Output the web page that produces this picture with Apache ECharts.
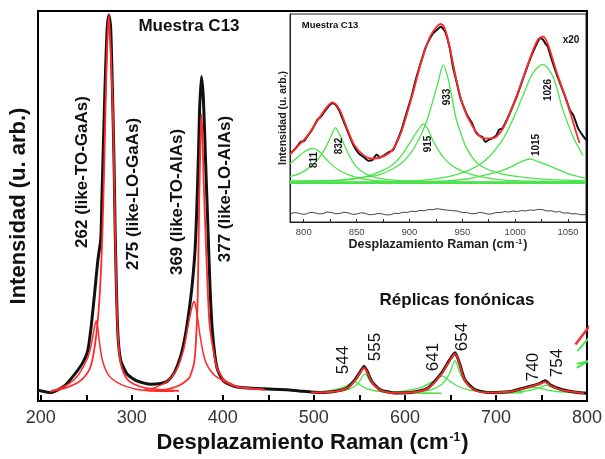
<!DOCTYPE html>
<html><head><meta charset="utf-8">
<script src="https://cdn.jsdelivr.net/npm/echarts@6/dist/echarts.min.js"></script>
<style>html,body{margin:0;padding:0;background:#fff}#c{width:605px;height:459px}</style>
</head><body><div id="c"></div>
<script>
const FONT = "'Liberation Sans', Arial, sans-serif";

// ---------- main panel ----------
const mainTickLabels = [200, 300, 400, 500, 600, 700, 800];
const mainTicks = [200, 250, 300, 350, 400, 450, 500, 550, 600, 650, 700, 750, 800];

const expMain = [[197,2.8],[211,2.2],[226,3.9],[237,6.8],[246,9.8],[251.6,12.9],[255.2,18.7],[259,27.2],[262.6,35.8],[266,41.7],[267.2,51.9],[270.2,77.3],[272.7,94.4],[274.8,99.0],[276.8,95.9],[279,77.3],[280.6,60.3],[281.7,44.2],[283.3,27.4],[285,16.2],[288,10.3],[295.3,6.8],[306.3,5.1],[320.8,4.3],[331.7,4.5],[339,5.1],[346.7,7.3],[353.2,11.1],[358.7,16.7],[363,23.3],[366.3,29.7],[369.6,39.1],[371.8,51.9],[373.4,64.6],[374.5,74.8],[376.5,83.2],[378.7,77.3],[381,62.0],[383.3,46.8],[386,28.9],[388.7,17.5],[393.6,8.5],[401,5.1],[415.5,3.6],[440,3.2],[470,2.9],[484,2.6],[506,2.2],[521,2.4],[536,3.3],[545,5.4],[551,7.5],[555,8.9],[558,7.9],[564,4.9],[573,2.9],[588,2.1],[606,2.2],[625,3.3],[640,7.1],[649,10.5],[655,12.4],[660,9.7],[666,5.4],[677,2.9],[692,2.2],[714,2.4],[736,3.7],[748,4.5],[754,5.2],[760,4.1],[773,2.9],[790,2.2],[800,2.0]];

const lor262 = [[210,2.3],[230,4.3],[240.7,6.5],[251.6,11.1],[256,15],[259,19],[261,20.6],[262.5,19],[264.4,15.3],[268,10.2],[275.3,6.4],[288,4.3],[306.3,3.0],[324.5,2.6],[346.3,2.5]];
const lor275 = [[211,2.6],[230,3.6],[245,5.5],[255,9],[261,17],[265,28],[268,45],[270.5,68],[272.5,88],[274.8,99],[276.8,90],[279,76],[280.6,59],[281.7,43],[283.3,27],[285,16],[288,9.5],[295,5.6],[306,4.0],[320,3.2],[340,2.8],[352,2.6]];
const lor369 = [[314,3.0],[324.5,3.4],[339,5.1],[350,8.5],[357.3,13.6],[362.7,20.4],[366,24],[368.2,25.5],[370,24.5],[371.8,22.1],[375.4,16.2],[380.9,10.2],[390,6.8],[404.6,4.7],[415.5,3.6],[446,3.0]];
const lor377 = [[319.4,2.7],[335.7,2.9],[352.1,4.0],[363.1,6.0],[368.5,9.8],[370.7,16.2],[372.4,26.4],[374.1,51.9],[375.3,65],[376.5,73.5],[377.7,68],[378.9,56.9],[381.6,39.1],[384.9,21.3],[388.2,14.9],[393.6,8.5],[401.3,5.5],[415.5,3.7],[446,2.9]];

const fitReplicas = [[497,2.2],[506,2.2],[521,2.4],[536,3.2],[545,5.2],[551,7.3],[555,8.6],[558,7.7],[564,4.8],[573,2.8],[588,2.1],[606,2.2],[625,3.2],[640,6.9],[649,10.3],[655,12.1],[660,9.5],[666,5.3],[677,2.8],[692,2.2],[714,2.4],[736,3.6],[748,4.4],[754,4.9],[760,4.0],[773,2.8],[790,2.2],[797,2.0]];
const g544 = [[497,2.2],[515,2.6],[528,3.2],[536,3.9],[541,4.6],[544,5.0],[548,4.6],[553,3.8],[560,3.0],[575,2.4],[600,2.1],[640,2.0]];
const g555 = [[497,2.1],[520,2.3],[535,2.8],[545,3.8],[550,5.0],[553,6.2],[556,7.0],[559,6.2],[562,5.0],[568,3.6],[578,2.7],[600,2.2],[640,2.0]];
const g641 = [[580,2.1],[600,2.6],[615,3.3],[625,4.3],[633,5.4],[638,6.1],[641,6.4],[645,5.9],[650,5.0],[658,3.8],[670,2.9],[690,2.3],[720,2.1]];
const g654 = [[590,2.1],[615,2.4],[630,3.0],[640,4.2],[646,5.8],[650,7.6],[653,9.5],[655,10.4],[657,9.5],[660,7.6],[664,5.6],[670,3.9],[680,2.9],[700,2.3],[730,2.1]];
const g740 = [[690,2.1],[710,2.4],[725,2.8],[735,3.3],[741,3.5],[748,3.3],[755,2.9],[770,2.4],[795,2.1]];
const g754 = [[700,2.1],[725,2.4],[740,2.9],[748,3.5],[752,3.9],[755,4.1],[758,3.9],[763,3.4],[772,2.8],[785,2.4],[795,2.2]];
const edgeRed = [[787.3,14.5],[806,20.2]];
const edgeGreenA = [[789.5,12.8],[806,17.2]];
const edgeGreenB = [[788.8,8.5],[806,11.0]];
const edgeGreenC = [[788.8,9.6],[806,10.4]];

// ---------- inset ----------
const insetTickLabels = [800, 850, 900, 950, 1000, 1050];
const insetTicks = [800, 825, 850, 875, 900, 925, 950, 975, 1000, 1025, 1050];
const expInset = [[787,32.8],[790,34.2],[793.6,36.2],[797,38.5],[800,38.8],[803.2,41.0],[808,44.5],[812.7,49.0],[816,50.5],[820.7,53.8],[824,56],[827.1,57.1],[830,56.5],[833.4,53.8],[836.5,50],[839.8,45.8],[844,40.5],[847.8,36.2],[852,33],[857.3,31.0],[861,29.5],[865.3,30.0],[869,32.5],[872,31],[876.4,32.2],[880,33.5],[884.4,34.6],[888,38.5],[892.4,44.2],[897,52],[901.9,60.2],[906,68.5],[911.5,77.9],[915,83.5],[919.4,88.3],[922,90.5],[925.8,92.3],[929.6,93.9],[933.8,91.5],[936,88],[938.5,82.7],[941,75],[944.9,66.7],[948,60],[951.3,55.4],[955,51],[959.2,47.5],[963,43],[966,41.5],[968.8,41.0],[972,38.5],[975,39.5],[978.3,40.2],[982,41.5],[985,44.5],[987.9,45],[992,49],[997.5,55.4],[1002,61],[1007,68.3],[1011,74],[1015,79.5],[1018,83],[1021.3,86.7],[1024,88.3],[1026.1,87.8],[1029,85.5],[1030.9,84.3],[1034,79],[1038.9,71.5],[1043,66],[1048.4,58.7],[1052,53.5],[1055,51.4],[1059.6,45.0],[1064,41.5],[1067,39.5]];
const fitInset = [[787,32.5],[793.6,36.0],[803.2,41.2],[812.7,48.5],[820.7,54.5],[827.1,57.5],[833.4,54.5],[839.8,46.5],[847.8,37],[857.3,31.8],[865.3,30.4],[876.4,31.8],[884.4,35],[892.4,43.5],[901.9,59.5],[911.5,77.5],[919.4,89],[925.8,94],[929.6,95.2],[933.8,92.5],[938.5,83],[944.9,67],[951.3,55],[959.2,46.5],[968.8,40.5],[978.3,40.2],[987.9,44.5],[997.5,55.5],[1007,68.5],[1015,80],[1021.3,87.5],[1026.1,89.2],[1030.9,85.5],[1038.9,72.5],[1048.4,58.7],[1058,42.6],[1061,38]];
const c811 = [[787,28.0],[795,31.5],[800,33.5],[805,35.0],[809,35.4],[814,34.2],[819,31.5],[825,28.3],[833,25],[843,22.5],[858,20.5],[878,19.6],[920,19.2],[1000,19],[1067,19]];
const c832 = [[787,21.8],[797,23.5],[806,26.5],[814,30.5],[821,36],[826,41.5],[830,45.3],[834,42],[838,37.5],[843,32],[849,27],[859,23],[877,20.5],[917,19.5],[1000,19.1],[1067,19]];
const c915 = [[787,19.5],[836,20],[856,21.5],[871,24],[884,27.5],[894,33],[902,39.4],[908,44],[913,47.1],[917,45],[922,39.4],[928,34],[934,30],[942,26.5],[952,24],[967,21.8],[987,20.3],[1017,19.6],[1067,19.3]];
const c933 = [[787,19.7],[836,20.3],[856,21.5],[871,22.7],[884,25.5],[893,28.5],[901,33],[906,37],[912,43],[917,49.5],[922,58],[927,67],[932,75.5],[936,70],[939,63],[944,50],[949,42],[954,35.5],[961,30],[968,26.8],[981,24],[996,22.3],[1026,20.6],[1067,19.8]];
const c1015 = [[787,19],[896,19.3],[936,19.8],[956,20.8],[971,22.5],[986,24.5],[996,26.5],[1005,28.8],[1014,30.3],[1021,29.2],[1030,27.5],[1040,25.3],[1049,23.4],[1060,21.8],[1067,21]];
const c1026 = [[787,19.0],[886,19.4],[927.4,21.0],[952.9,24.2],[972,29.8],[987.9,39.4],[997.5,49.0],[1007,60.3],[1016.6,71.5],[1026.1,75.8],[1035.7,69.9],[1045.2,53.8],[1054.8,41.0],[1059.6,36.2],[1064,32]];
const baseInset = [[787,18.9],[1067,18.9]];
const residInset = [[787,4.0],[791,4.5],[795,4.3],[799,3.7],[802,3.8],[806,4.6],[810,4.5],[814,3.9],[818,4.0],[822,4.8],[826,4.6],[830,4.0],[834,4.1],[838,4.7],[842,4.4],[846,3.7],[850,3.8],[854,4.4],[858,4.2],[862,3.5],[866,3.6],[870,4.1],[874,3.9],[878,3.4],[882,3.5],[886,4.2],[890,4.1],[894,4.7],[898,4.6],[902,5.2],[906,5.0],[910,5.6],[914,5.4],[918,6.0],[922,5.9],[926,6.4],[930,6.1],[934,5.8],[938,5.6],[942,5.4],[946,5.2],[950,4.5],[954,4.6],[958,4.0],[962,4.0],[966,4.6],[970,4.4],[974,3.8],[978,3.9],[982,4.6],[986,4.5],[990,5.0],[994,4.8],[998,5.3],[1002,5.0],[1006,5.5],[1010,5.3],[1014,5.8],[1018,5.6],[1022,6.1],[1026,5.9],[1030,5.3],[1034,5.4],[1038,4.8],[1042,5.0],[1046,4.3],[1050,4.4],[1054,3.9],[1058,4.0],[1062,3.5],[1067,3.6]];

const RED = '#ff2a2a', GREEN = '#4be34b', BLACK = '#111';

function line(data, color, width, gi, z, smooth) {
  return { type: 'line', data: data, xAxisIndex: gi, yAxisIndex: gi, showSymbol: false, symbol: 'none',
    smooth: smooth === undefined ? 0.3 : smooth, z: z, silent: true, animation: false,
    lineStyle: { color: color, width: width } };
}

function rtext(txt, x, y, size, weight, rot) {
  return { type: 'text', x: x, y: y, rotation: rot ? Math.PI / 2 : 0, z: 50,
    style: { text: txt, fontFamily: FONT, fontSize: size, fontWeight: weight, fill: '#111',
      align: 'center', verticalAlign: 'middle' } };
}

const plain = function (v) { return String(v); };

const chart = echarts.init(document.getElementById('c'), null, { renderer: 'canvas' });
chart.setOption({
  animation: false,
  backgroundColor: '#fff',
  textStyle: { fontFamily: FONT },
  grid: [
    { left: 38, right: 16, top: 11, bottom: 55, show: true, borderColor: '#000', borderWidth: 2 },
    { left: 290, top: 14, width: 296, height: 208, show: true, borderColor: '#222', borderWidth: 1, backgroundColor: '#fff' }
  ],
  xAxis: [
    { type: 'value', gridIndex: 0, min: 197, max: 800,
      axisLine: { lineStyle: { color: '#000', width: 2 } },
      axisTick: { inside: true, length: 6, lineStyle: { color: '#000', width: 2 }, customValues: mainTicks },
      axisLabel: { customValues: mainTickLabels, formatter: plain, fontSize: 18, color: '#333', margin: 8, fontFamily: FONT },
      splitLine: { show: false },
      name: '{t|Desplazamiento Raman (cm}{s|-1}{t|)}', nameLocation: 'middle', nameGap: 29,
      nameTextStyle: { rich: {
        t: { fontSize: 22, fontWeight: 'bold', color: '#111', fontFamily: FONT },
        s: { fontSize: 12, fontWeight: 'bold', color: '#111', fontFamily: FONT, verticalAlign: 'top', padding: [0, 1, 10, 1] } } } },
    { type: 'value', gridIndex: 1, min: 787, max: 1067,
      axisLine: { lineStyle: { color: '#222', width: 1 } },
      axisTick: { inside: true, length: 3, lineStyle: { color: '#222', width: 1 }, customValues: insetTicks },
      axisLabel: { customValues: insetTickLabels, formatter: plain, fontSize: 9.5, color: '#444', margin: 5, fontFamily: FONT },
      splitLine: { show: false },
      name: '{t|Desplazamiento Raman (cm}{s|-1}{t|)}', nameLocation: 'middle', nameGap: 15,
      nameTextStyle: { rich: {
        t: { fontSize: 12.5, fontWeight: 'bold', color: '#222', fontFamily: FONT },
        s: { fontSize: 7.5, fontWeight: 'bold', color: '#222', fontFamily: FONT, verticalAlign: 'top', padding: [0, 1, 6, 1] } } } }
  ],
  yAxis: [
    { type: 'value', gridIndex: 0, min: 0, max: 100,
      axisLine: { show: true, lineStyle: { color: '#000', width: 2 } }, axisTick: { show: false },
      axisLabel: { show: false }, splitLine: { show: false },
      name: 'Intensidad (u. arb.)', nameLocation: 'middle', nameGap: 8,
      nameTextStyle: { fontSize: 22, fontWeight: 'bold', color: '#111', fontFamily: FONT } },
    { type: 'value', gridIndex: 1, min: 0, max: 100,
      axisLine: { show: true, lineStyle: { color: '#222', width: 1 } }, axisTick: { show: false },
      axisLabel: { show: false }, splitLine: { show: false },
      name: 'Intensidad (u. arb.)', nameLocation: 'middle', nameGap: 1,
      nameTextStyle: { fontSize: 10.5, fontWeight: 'bold', color: '#222', fontFamily: FONT } }
  ],
  series: [
    line(g544, GREEN, 1.3, 0, 3), line(g555, GREEN, 1.3, 0, 3), line(g641, GREEN, 1.3, 0, 3),
    line(g654, GREEN, 1.3, 0, 3), line(g740, GREEN, 1.3, 0, 3), line(g754, GREEN, 1.3, 0, 3),
    line(edgeGreenA, GREEN, 2, 0, 3, false), line(edgeGreenB, GREEN, 2, 0, 3, false), line(edgeGreenC, GREEN, 2, 0, 3, false),
    line(expMain, BLACK, 3, 0, 4, 0.2),
    line(lor262, RED, 1.5, 0, 5), line(lor275, RED, 1.8, 0, 5), line(lor369, RED, 1.5, 0, 5), line(lor377, RED, 1.8, 0, 5, 0.2),
    line(fitReplicas, RED, 1.8, 0, 5), line(edgeRed, RED, 2.5, 0, 5, false),
    line(baseInset, GREEN, 2.5, 1, 10, false),
    line(c811, GREEN, 1.3, 1, 10), line(c832, GREEN, 1.3, 1, 10), line(c915, GREEN, 1.3, 1, 10),
    line(c933, GREEN, 1.3, 1, 10), line(c1015, GREEN, 1.3, 1, 10), line(c1026, GREEN, 1.3, 1, 10),
    line(residInset, '#444', 1, 1, 11, false),
    line(expInset, BLACK, 2, 1, 11, 0.2),
    line(fitInset, RED, 1.8, 1, 12)
  ],
  graphic: [
    rtext('Muestra C13', 189, 26, 17, 'bold', false),
    rtext('262 (like-TO-GaAs)', 82, 172, 17, 'bold', true),
    rtext('275 (like-LO-GaAs)', 133, 194, 17, 'bold', true),
    rtext('369 (like-TO-AlAs)', 177, 202, 17, 'bold', true),
    rtext('377 (like-LO-AlAs)', 225, 189, 17, 'bold', true),
    rtext('Réplicas fonónicas', 457, 300, 17, 'bold', false),
    rtext('544', 343, 360, 17, 'normal', true),
    rtext('555', 375, 347, 17, 'normal', true),
    rtext('641', 433, 357, 17, 'normal', true),
    rtext('654', 462, 337, 17, 'normal', true),
    rtext('740', 533, 367, 17, 'normal', true),
    rtext('754', 557, 363, 17, 'normal', true),
    rtext('Muestra C13', 330, 25.5, 9.5, 'bold', false),
    rtext('x20', 571, 40, 10, 'bold', false),
    rtext('811', 314, 160, 10, 'bold', true),
    rtext('832', 339, 146, 10, 'bold', true),
    rtext('915', 428, 144, 10, 'bold', true),
    rtext('933', 447, 97, 10, 'bold', true),
    rtext('1015', 536, 145, 10, 'bold', true),
    rtext('1026', 548, 90, 10, 'bold', true)
  ]
});
</script></body></html>
